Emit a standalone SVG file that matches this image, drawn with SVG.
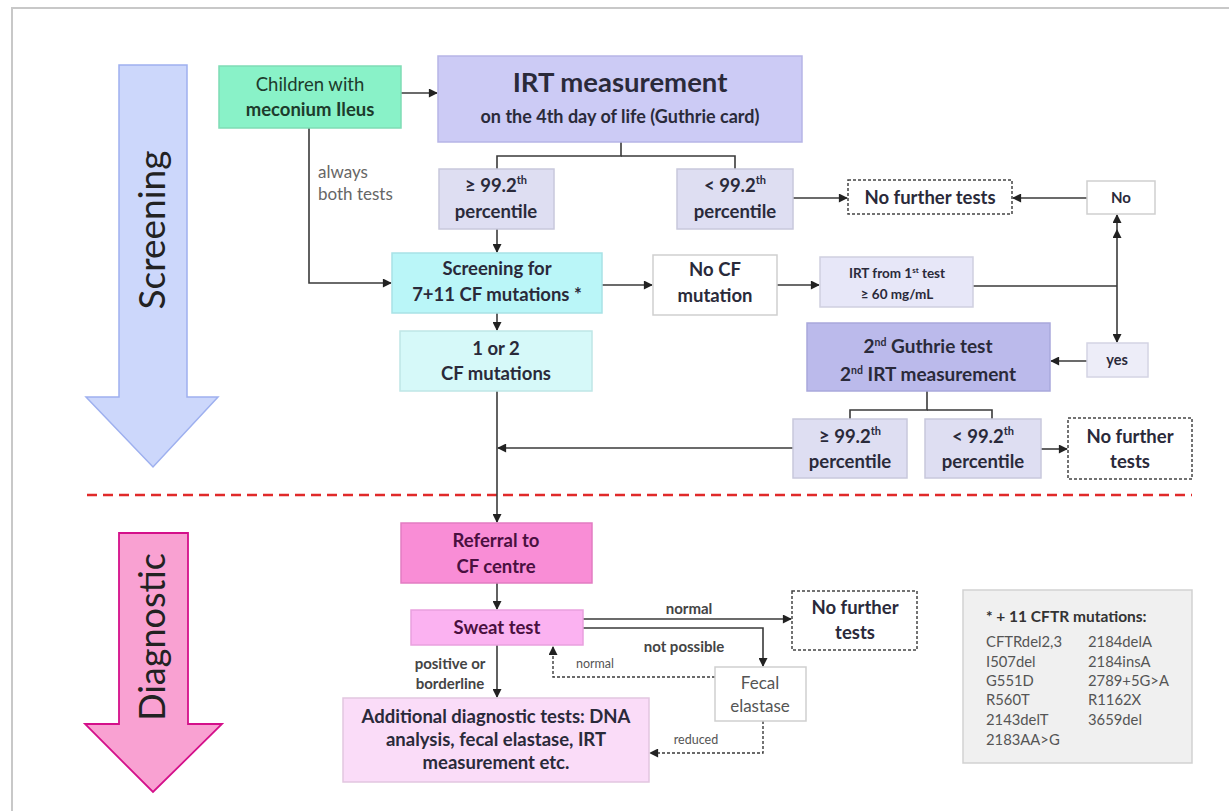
<svg xmlns="http://www.w3.org/2000/svg" width="1229" height="811" viewBox="0 0 1229 811">
<defs>
<style>
text{font-family:Lato,"Open Sans","Liberation Sans",sans-serif;text-anchor:middle;fill:#2a2a3a}
.b{font-weight:bold}
.t{font-size:18.5px;font-weight:bold}
.c{stroke:#3a3a3a;stroke-width:1.6;fill:none}
.d{stroke:#3a3a3a;stroke-width:1.4;fill:none;stroke-dasharray:3,2}
.lav{fill:#cccbf5;stroke:#b6b5e6;stroke-width:1.5}
.pct{fill:#dedef2;stroke:#c8c8dc;stroke-width:1.5}
.wht{fill:#ffffff;stroke:#cfcfcf;stroke-width:1.5}
.dash{fill:#ffffff;stroke:#444;stroke-width:1.5;stroke-dasharray:3,2}
.lbl{font-size:15px;font-weight:bold;fill:#444}
.mut{font-size:14.8px;fill:#555;text-anchor:start}
</style>
<marker id="ah" viewBox="0 0 10 10" refX="9" refY="5" markerWidth="10" markerHeight="9" markerUnits="userSpaceOnUse" orient="auto-start-reverse">
<path d="M0,0 L10,5 L0,10 z" fill="#222"/>
</marker>
</defs>
<rect x="12" y="8" width="1230" height="820" fill="#fff" stroke="#c8c8c8" stroke-width="2"/>

<g id="screening-arrow">
<path d="M119,65 H187 V397 H218 L153,467 L86,397 H119 Z" fill="#ccd7fb" stroke="#9eb0ef" stroke-width="1.5"/>
<text transform="translate(165,230) rotate(-90)" style="font-size:37px;fill:#222">Screening</text>
</g>
<g id="diagnostic-arrow">
<path d="M119,533 H188 V724 H222 L153,792 L85,724 H119 Z" fill="#f9a1d2" stroke="#d4108a" stroke-width="1.8"/>
<text transform="translate(165,637) rotate(-90)" style="font-size:36px;fill:#222">Diagnostic</text>
</g>
<line id="divider" x1="87" y1="495" x2="1192" y2="495" stroke="#e02a2a" stroke-width="2.5" stroke-dasharray="10,6"/>

<g id="connectors">
<line class="c" x1="401" y1="93" x2="437" y2="93" marker-end="url(#ah)"/>
<polyline class="c" points="621,142 621,156 497,156 497,169"/>
<polyline class="c" points="621,156 735,156 735,169"/>
<line class="c" x1="793" y1="198" x2="847" y2="198" marker-end="url(#ah)"/>
<line class="c" x1="1087" y1="198" x2="1013" y2="198" marker-end="url(#ah)"/>
<polyline class="c" points="309,128 309,283 391,283" marker-end="url(#ah)"/>
<line class="c" x1="497" y1="229" x2="497" y2="252" marker-end="url(#ah)"/>
<line class="c" x1="602" y1="285" x2="652" y2="285" marker-end="url(#ah)"/>
<line class="c" x1="777" y1="285" x2="819" y2="285" marker-end="url(#ah)"/>
<line class="c" x1="973" y1="286" x2="1117" y2="286"/>
<line class="c" x1="1117" y1="230" x2="1117" y2="342" marker-start="url(#ah)" marker-end="url(#ah)"/>
<line class="c" x1="1117" y1="230" x2="1117" y2="215" marker-end="url(#ah)"/>
<line class="c" x1="1087" y1="361" x2="1051" y2="361" marker-end="url(#ah)"/>
<line class="c" x1="497" y1="313" x2="497" y2="330" marker-end="url(#ah)"/>
<polyline class="c" points="927,391 927,410 850,410 850,419"/>
<polyline class="c" points="927,410 992,410 992,419"/>
<line class="c" x1="1041" y1="449" x2="1067" y2="449" marker-end="url(#ah)"/>
<line class="c" x1="793" y1="448" x2="498" y2="448" marker-end="url(#ah)"/>
<line class="c" x1="497" y1="391" x2="497" y2="522" marker-end="url(#ah)"/>
<line class="c" x1="497" y1="583" x2="497" y2="609" marker-end="url(#ah)"/>
<line class="c" x1="583" y1="619" x2="791" y2="619" marker-end="url(#ah)"/>
<polyline class="c" points="583,628 763,628 763,666" marker-end="url(#ah)"/>
<polyline class="d" points="715,677 553,677 553,647" marker-end="url(#ah)"/>
<line class="c" x1="497" y1="645" x2="497" y2="697" marker-end="url(#ah)"/>
<polyline class="d" points="763,721 763,753 650,753" marker-end="url(#ah)"/>
<text x="318" y="178" style="font-size:17px;fill:#666;text-anchor:start">always</text>
<text x="318" y="200" style="font-size:17px;fill:#666;text-anchor:start">both tests</text>
<text x="689" y="614" class="lbl">normal</text>
<text x="684" y="652" class="lbl">not possible</text>
<text x="595" y="668" style="font-size:12.5px;fill:#555">normal</text>
<text x="696" y="744" style="font-size:12.5px;fill:#555">reduced</text>
<text x="450" y="669" class="lbl">positive or</text>
<text x="450" y="689" class="lbl">borderline</text>
</g>

<g id="children">
<rect x="219" y="66" width="182" height="62" fill="#89f2c8" stroke="#7fdcb5" stroke-width="1.5"/>
<text x="310" y="91" style="font-size:18.5px;fill:#1d3b2c">Children with</text>
<text x="310" y="116" class="b" style="font-size:18.5px;fill:#1d3b2c">meconium Ileus</text>
</g>
<g id="irt">
<rect x="438" y="56" width="364" height="86" class="lav"/>
<text x="620" y="92" class="b" style="font-size:27.5px">IRT measurement</text>
<text x="620" y="123" class="b" style="font-size:18px">on the 4th day of life (Guthrie card)</text>
</g>
<g id="p1-high">
<rect x="439" y="169" width="115" height="60" class="pct"/>
<text x="496" y="192" class="t">≥ 99.2<tspan dy="-8" style="font-size:11px">th</tspan></text>
<text x="496" y="218" class="t">percentile</text>
</g>
<g id="p1-low">
<rect x="677" y="169" width="116" height="60" class="pct"/>
<text x="735" y="192" class="t">&lt; 99.2<tspan dy="-8" style="font-size:11px">th</tspan></text>
<text x="735" y="218" class="t">percentile</text>
</g>
<g id="nft1">
<rect x="848" y="180" width="164" height="34" class="dash"/>
<text x="930" y="204" class="t">No further tests</text>
</g>
<g id="no">
<rect x="1087" y="181" width="68" height="33" class="wht"/>
<text x="1121" y="203" class="b" style="font-size:15px">No</text>
</g>
<g id="screen7">
<rect x="392" y="253" width="210" height="60" fill="#baf6f8" stroke="#a8e2e6" stroke-width="1.5"/>
<text x="497" y="275" class="t">Screening for</text>
<text x="497" y="301" class="t">7+11 CF mutations *</text>
</g>
<g id="nocf">
<rect x="653" y="255" width="124" height="60" class="wht"/>
<text x="715" y="276" class="t">No CF</text>
<text x="715" y="302" class="t">mutation</text>
</g>
<g id="irt1">
<rect x="820" y="257" width="153" height="50" fill="#e7e7f8" stroke="#cfcfe0" stroke-width="1.5"/>
<text x="897" y="278" class="b" style="font-size:13.5px">IRT from 1<tspan dy="-5" style="font-size:8px">st</tspan><tspan dy="5"> test</tspan></text>
<text x="897" y="299" class="b" style="font-size:13.5px">≥ 60 mg/mL</text>
</g>
<g id="cf12">
<rect x="400" y="331" width="192" height="60" fill="#d6f9f9" stroke="#bfe6e6" stroke-width="1.5"/>
<text x="496" y="355" class="t">1 or 2</text>
<text x="496" y="380" class="t">CF mutations</text>
</g>
<g id="guthrie2">
<rect x="807" y="323" width="243" height="68" fill="#bbbaeb" stroke="#a9a8dc" stroke-width="1.5"/>
<text x="928" y="353" class="b" style="font-size:19px">2<tspan dy="-7" style="font-size:10.5px">nd</tspan><tspan dy="7"> Guthrie test</tspan></text>
<text x="928" y="381" class="b" style="font-size:19px">2<tspan dy="-7" style="font-size:10.5px">nd</tspan><tspan dy="7"> IRT measurement</tspan></text>
</g>
<g id="yes">
<rect x="1087" y="343" width="61" height="34" fill="#ededf8" stroke="#d4d4e4" stroke-width="1.5"/>
<text x="1117" y="365" class="b" style="font-size:14.5px">yes</text>
</g>
<g id="p2-high">
<rect x="793" y="419" width="114" height="59" class="pct"/>
<text x="850" y="443" class="t">≥ 99.2<tspan dy="-8" style="font-size:11px">th</tspan></text>
<text x="850" y="468" class="t">percentile</text>
</g>
<g id="p2-low">
<rect x="925" y="419" width="116" height="59" class="pct"/>
<text x="983" y="443" class="t">&lt; 99.2<tspan dy="-8" style="font-size:11px">th</tspan></text>
<text x="983" y="468" class="t">percentile</text>
</g>
<g id="nft2">
<rect x="1068" y="418" width="124" height="61" class="dash"/>
<text x="1130" y="443" class="t">No further</text>
<text x="1130" y="468" class="t">tests</text>
</g>
<g id="referral">
<rect x="401" y="523" width="191" height="60" fill="#f98dd6" stroke="#e27cc2" stroke-width="1.5"/>
<text x="496" y="547" class="t" style="fill:#4a1040">Referral to</text>
<text x="496" y="573" class="t" style="fill:#4a1040">CF centre</text>
</g>
<g id="sweat">
<rect x="411" y="610" width="172" height="35" fill="#fbb2f1" stroke="#e9a0de" stroke-width="1.5"/>
<text x="497" y="634" class="b" style="font-size:18.5px;fill:#4a1040">Sweat test</text>
</g>
<g id="nft3">
<rect x="792" y="591" width="125" height="59" class="dash"/>
<text x="855" y="614" class="t">No further</text>
<text x="855" y="639" class="t">tests</text>
</g>
<g id="fecal">
<rect x="715" y="667" width="91" height="54" class="wht"/>
<text x="760" y="689" style="font-size:17px;fill:#555">Fecal</text>
<text x="760" y="712" style="font-size:17px;fill:#555">elastase</text>
</g>
<g id="additional">
<rect x="343" y="698" width="306" height="84" fill="#fadcf8" stroke="#e2c6e0" stroke-width="1.5"/>
<text x="496" y="723" class="t">Additional diagnostic tests: DNA</text>
<text x="496" y="746" class="t">analysis, fecal elastase, IRT</text>
<text x="496" y="769" class="t">measurement etc.</text>
</g>
<g id="mutations">
<rect x="963" y="590" width="229" height="173" fill="#f0f0f0" stroke="#d2d2d2" stroke-width="1.5"/>
<text x="986" y="622" class="b" style="font-size:15.5px;text-anchor:start;fill:#333">*  + 11 CFTR mutations:</text>
<text x="986" y="647" class="mut">CFTRdel2,3</text>
<text x="986" y="667" class="mut">I507del</text>
<text x="986" y="686" class="mut">G551D</text>
<text x="986" y="705" class="mut">R560T</text>
<text x="986" y="725" class="mut">2143delT</text>
<text x="986" y="745" class="mut">2183AA&gt;G</text>
<text x="1088" y="647" class="mut">2184delA</text>
<text x="1088" y="667" class="mut">2184insA</text>
<text x="1088" y="686" class="mut">2789+5G&gt;A</text>
<text x="1088" y="705" class="mut">R1162X</text>
<text x="1088" y="725" class="mut">3659del</text>
</g>
</svg>
